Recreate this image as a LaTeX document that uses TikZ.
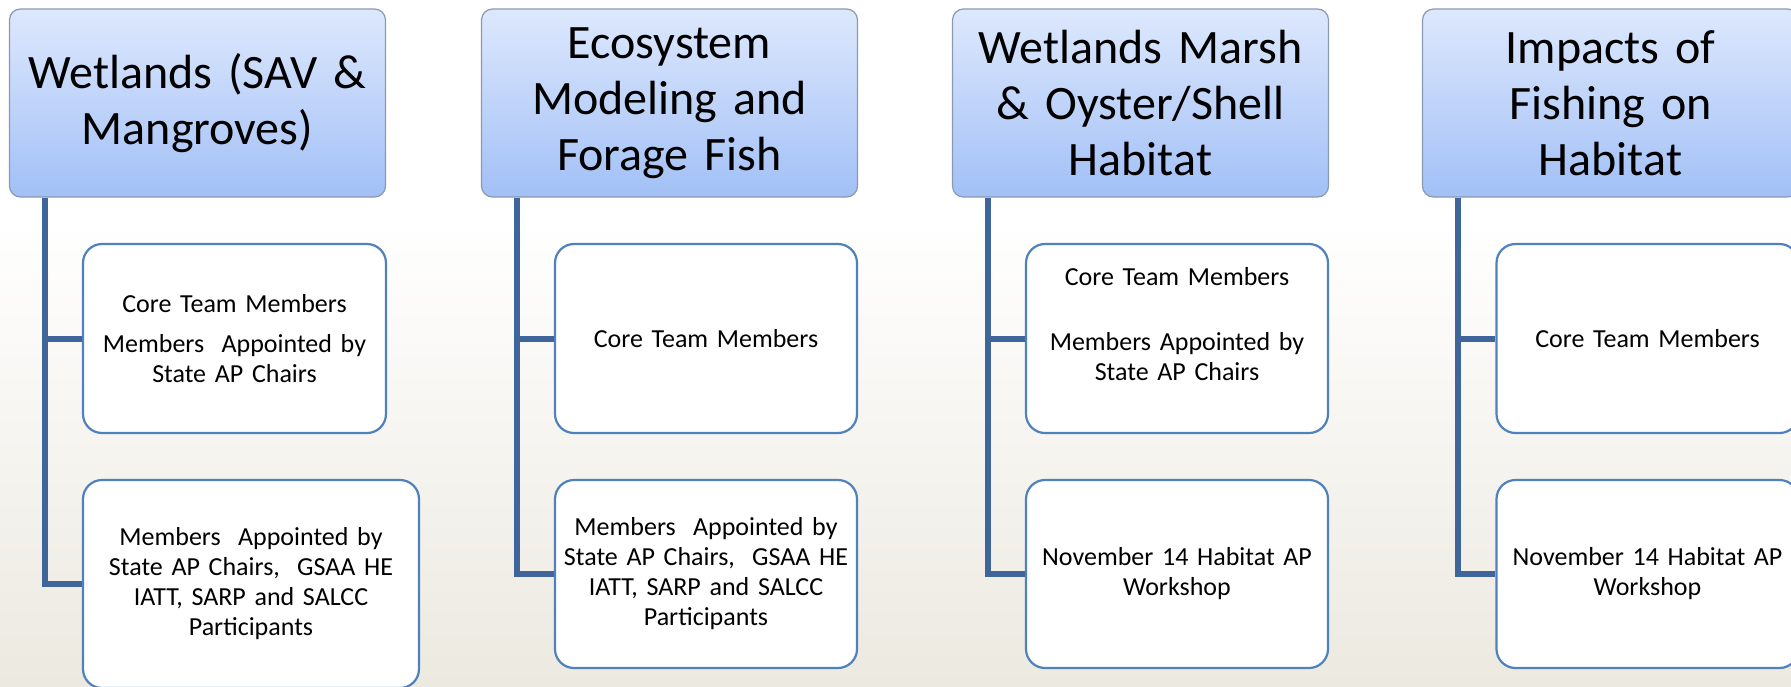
\documentclass[tikz,border=0pt]{standalone}
\usepackage{fontspec}
\setmainfont{Carlito}
\definecolor{hdrtop}{HTML}{DDE8FD}
\definecolor{hdrbot}{HTML}{A2C0F6}
\definecolor{hdrline}{HTML}{8A99B0}
\definecolor{kidline}{HTML}{4F81BD}
\definecolor{connc}{HTML}{40659B}
\definecolor{bgbot}{HTML}{ECE9E0}
\tikzset{
  hdr/.style={rectangle, rounded corners=11pt, draw=hdrline, line width=1.2pt,
    top color=hdrtop, bottom color=hdrbot, inner sep=0pt,
    minimum width=376pt, minimum height=188pt, text width=365pt, align=center,
    font=\fontsize{48}{56}\selectfont},
  kid/.style={rectangle, rounded corners=19pt, draw=kidline, line width=2.2pt,
    fill=white, inner sep=0pt, minimum height=189pt, align=center,
    font=\fontsize{26}{30}\selectfont},
  conn/.style={draw=connc, line width=6pt},
}
\begin{document}
\begin{tikzpicture}[x=1pt,y=-1pt]
\useasboundingbox (0,0) rectangle (1791,686);
\fill[white] (0,0) rectangle (1791,221);
\shade[top color=white, bottom color=bgbot] (0,220) rectangle (1791,686);

% Panel 1
\node[hdr] (h1) at (197.5,103) {Wetlands (SAV \&\\Mangroves)};
\node[kid, minimum width=303pt, text width=295pt] (b11) at (234.5,338.5)
  {Core Team Members\\[10pt]Members~ Appointed by\\State AP Chairs};
\node[kid, minimum width=336pt, text width=320pt, minimum height=208pt] (b12) at (251,584)
  {Members~ Appointed by\\State AP Chairs,~ GSAA HE\\IATT, SARP and SALCC\\Participants};

% Panel 2
\node[hdr] (h2) at (669.5,103) {Ecosystem\\Modeling and\\Forage Fish};
\node[kid, minimum width=302pt, text width=295pt] (b21) at (706,338.5)
  {Core Team Members};
\node[kid, minimum width=302pt, text width=295pt, minimum height=188pt] (b22) at (706,574)
  {Members~ Appointed by\\State AP Chairs,~ GSAA HE\\IATT, SARP and SALCC\\Participants};

% Panel 3
\node[hdr] (h3) at (1140.5,103) {Wetlands Marsh\\\& Oyster/Shell\\Habitat};
\node[kid, minimum width=302pt, text width=295pt] (b31) at (1177,338.5)
  {Core Team Members\\[35pt]Members Appointed by\\State AP Chairs\\\mbox{}};
\node[kid, minimum width=302pt, text width=295pt, minimum height=188pt] (b32) at (1177,574)
  {November 14 Habitat AP\\Workshop};

% Panel 4
\node[hdr] (h4) at (1610.5,103) {Impacts of\\Fishing on\\Habitat};
\node[kid, minimum width=302pt, text width=295pt] (b41) at (1647.5,338.5)
  {Core Team Members};
\node[kid, minimum width=302pt, text width=295pt, minimum height=188pt] (b42) at (1647.5,574)
  {November 14 Habitat AP\\Workshop};

% Connectors
\foreach \p in {1,2,3,4}{
  \draw[conn] ([xshift=36pt]h\p.south west) |- (b\p2.west);
  \draw[conn] ([xshift=36pt]h\p.south west) |- (b\p1.west);
}
\end{tikzpicture}
\end{document}
